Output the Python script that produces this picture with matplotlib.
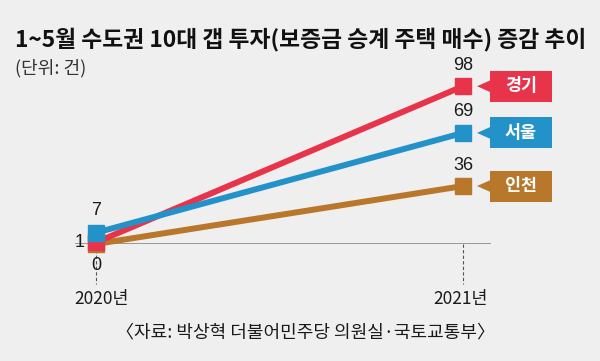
import matplotlib
matplotlib.use("Agg")
import matplotlib.pyplot as plt
from matplotlib.patches import Polygon

plt.rcParams['font.family'] = ['Noto Sans CJK KR', 'DejaVu Sans']

# ---- data ----
years = [2020, 2021]
year_labels = ["2020년", "2021년"]
series_names = ["인천", "경기", "서울"]
incheon = [0, 36]
gyeonggi = [1, 98]
seoul = [7, 69]
series_values = [incheon, gyeonggi, seoul]
colors = ["#b8772b", "#e8344a", "#2392c8"]

title = "1~5월 수도권 10대 갭 투자(보증금 승계 주택 매수) 증감 추이"
unit = "(단위: 건)"
source = "〈자료: 박상혁 더불어민주당 의원실·국토교통부〉"

BG = "#efefef"
W, H = 600, 361
fig = plt.figure(figsize=(W / 100, H / 100), dpi=100, facecolor=BG)

# axes geometry in pixels
ax_l, ax_r, ax_b, ax_t = 75, 491, 244, 50
ax = fig.add_axes([ax_l / W, (H - ax_b) / H, (ax_r - ax_l) / W, (ax_b - ax_t) / H])
ax.set_facecolor(BG)
px_per_year = 367.0
px_per_unit = 1.61
x0_px = 96
ax.set_xlim(2020 - (x0_px - ax_l) / px_per_year, 2021 + (ax_r - x0_px - px_per_year) / px_per_year)
ax.set_ylim(0, (ax_b - ax_t) / px_per_unit)
for s in ax.spines.values():
    s.set_visible(False)
ax.set_xticks([])
ax.set_yticks([])

def dx(px):
    return px / px_per_year

def dy(px):
    return px / px_per_unit

# baseline
ax.axhline(0, color="#8a8a8a", lw=1.2, zorder=1)
# dashed ticks
for yr in years:
    ax.plot([yr, yr], [0, -dy(40)], ls=(0, (3, 2)), color="#555555", lw=0.8,
            clip_on=False, zorder=1)

# lines & markers
for i, (name, vals, c) in enumerate(zip(series_names, series_values, colors)):
    ax.plot(years, vals, color=c, lw=4.3, solid_capstyle="butt", zorder=2 + i,
            clip_on=False)
    ax.plot(years, vals, ls="none", marker="s", ms=11.5, color=c, mec=c,
            zorder=5 + i, clip_on=False)

# value labels
lab_kw = dict(fontsize=13, color="#1a1a1a", ha="center", va="center",
              family=["Liberation Sans Narrow", "Liberation Sans", "DejaVu Sans"],
              textcoords="offset points", annotation_clip=False)
for name, vals in zip(series_names, series_values):
    ax.annotate(str(vals[1]), (years[1], vals[1]), xytext=(0, 21 * 0.72), **lab_kw)
# 2020 labels
ax.annotate(str(seoul[0]), (years[0], seoul[0]), xytext=(0, 22 * 0.72), **lab_kw)
ax.annotate(str(gyeonggi[0]), (years[0], gyeonggi[0]), xytext=(-16 * 0.72, 0), **lab_kw)
ax.annotate(str(incheon[0]), (years[0], incheon[0]), xytext=(0, -22 * 0.72), **lab_kw)

# callout boxes
for name, vals, c in zip(series_names, series_values, colors):
    yv = vals[1]
    xb0 = years[1] + dx(27)
    xb1 = years[1] + dx(89)
    hh = dy(15.5)
    ax.add_patch(Polygon([(xb0, yv - hh), (xb1, yv - hh), (xb1, yv + hh), (xb0, yv + hh)],
                         closed=True, fc=c, ec="none", clip_on=False, zorder=8))
    ax.add_patch(Polygon([(years[1] + dx(14), yv), (xb0 + dx(0.5), yv + dy(6)),
                          (xb0 + dx(0.5), yv - dy(6))],
                         closed=True, fc=c, ec="none", clip_on=False, zorder=8))
    ax.text((xb0 + xb1) / 2, yv, name, color="white", fontsize=12.5, fontweight="bold",
            ha="center", va="center", zorder=9)

# x labels
for yr, lab, off in zip(years, year_labels, [6, -2]):
    ax.text(yr + dx(off), -dy(55), lab, fontsize=12.5, color="#1a1a1a",
            ha="center", va="center")

# title etc
fig.text(15 / W, 1 - 39 / H, title, fontsize=16.4, fontweight="bold", color="#111111",
         ha="left", va="center")
fig.text(15 / W, 1 - 68 / H, unit, fontsize=13, color="#333333", ha="left", va="center")
fig.text(305 / W, 1 - 332 / H, source, fontsize=13, color="#1a1a1a", ha="center",
         va="center")

fig.savefig("out.png", dpi=100, facecolor=BG)
